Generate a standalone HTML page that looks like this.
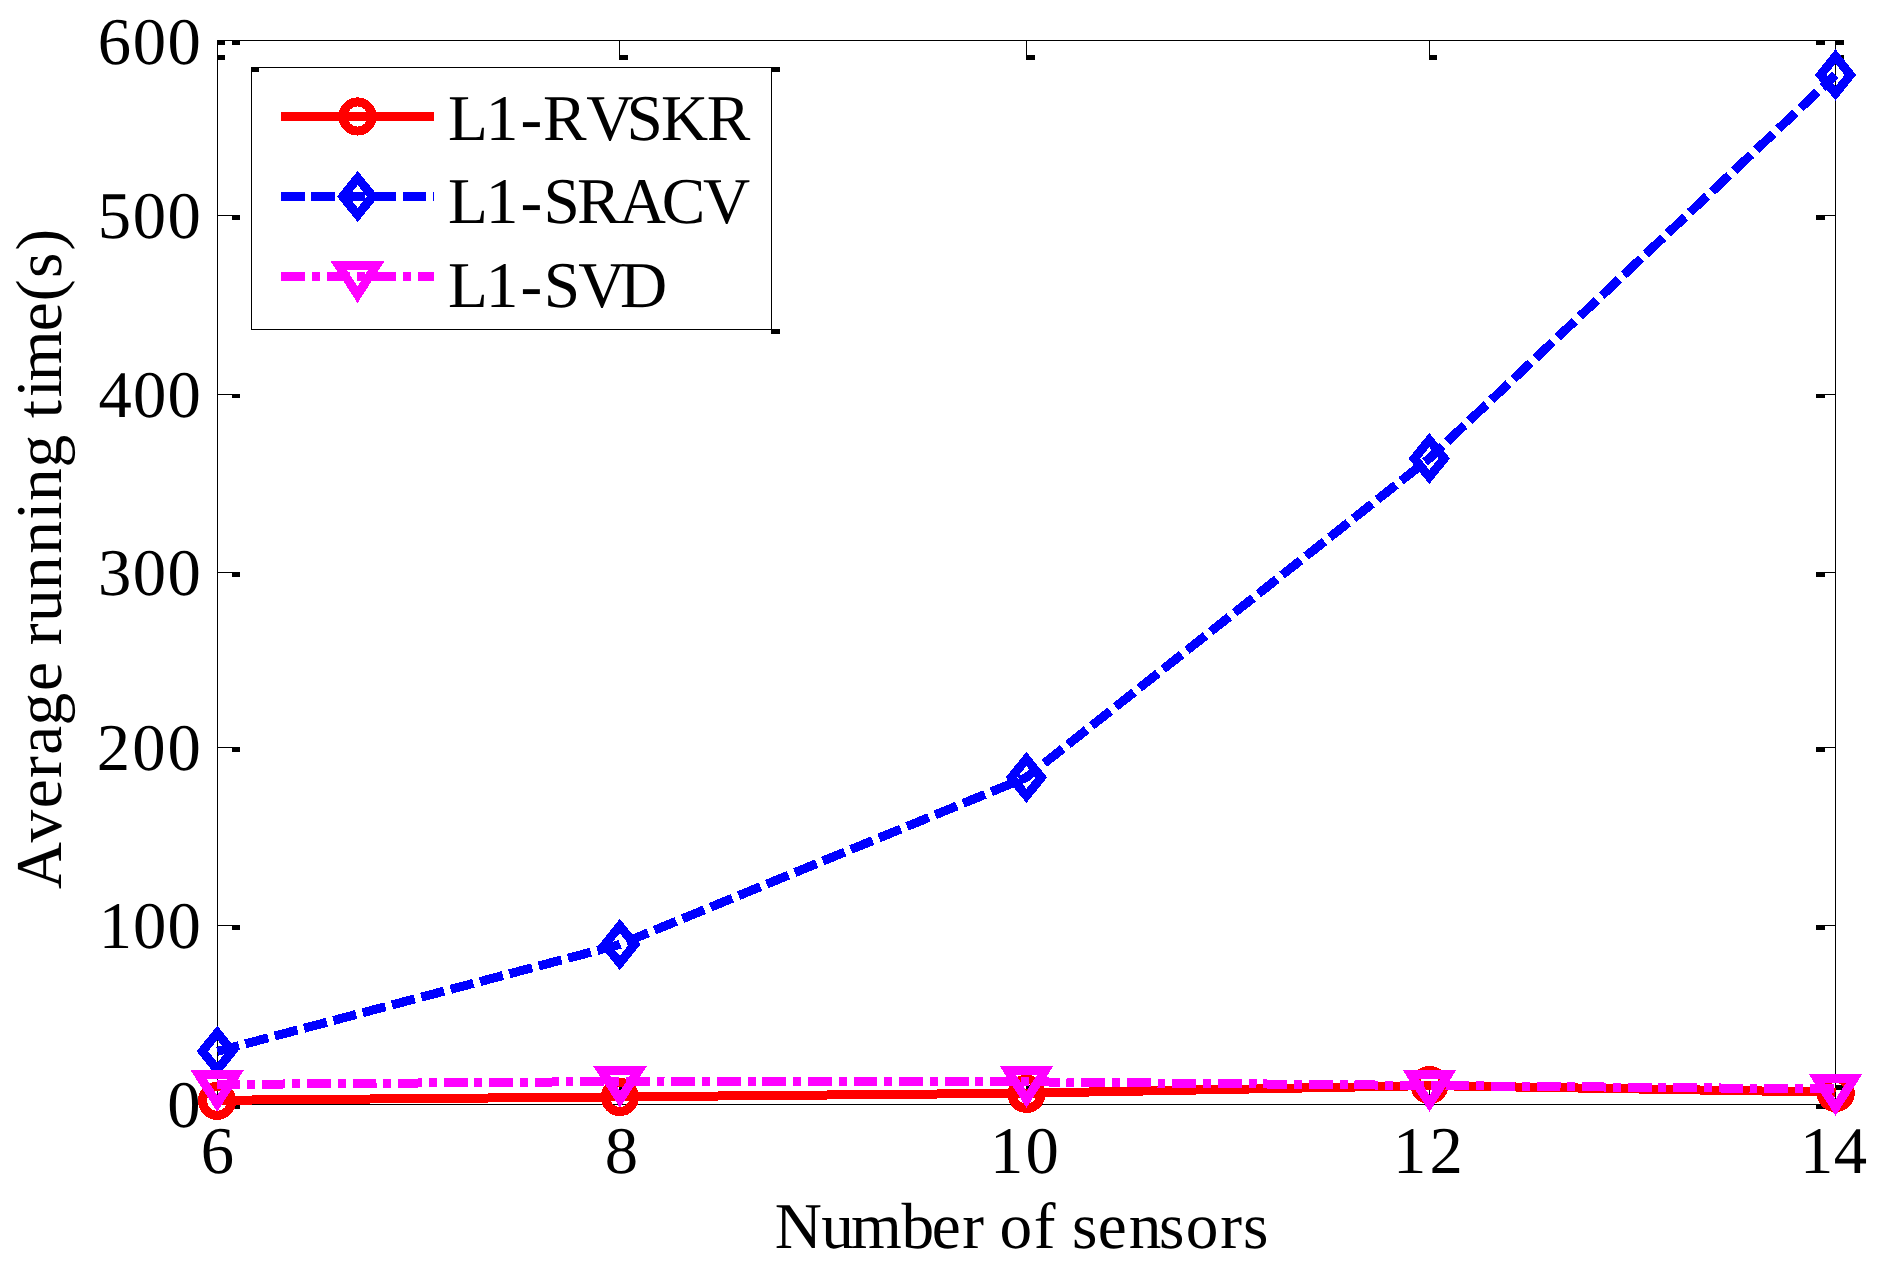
<!DOCTYPE html>
<html lang="en"><head><meta charset="utf-8"><title>Average running time vs number of sensors</title>
<style>html,body{margin:0;padding:0;background:#fff}svg{display:block}</style></head>
<body>
<svg width="1884" height="1266" viewBox="0 0 1884 1266" shape-rendering="crispEdges">
<rect width="1884" height="1266" fill="#fff"/>
<g id="axes" fill="#000">
<rect x="217" y="40" width="1619" height="1" fill="#000"/>
<rect x="217" y="1104" width="1619" height="1" fill="#000"/>
<rect x="217" y="40" width="1" height="1065" fill="#000"/>
<rect x="1835" y="40" width="1" height="1065" fill="#000"/>
<rect x="217" y="40" width="16" height="1" fill="#000"/>
<rect x="232" y="40" width="8" height="5" fill="#000"/>
<rect x="1825" y="40" width="10" height="1" fill="#000"/>
<rect x="1816" y="40" width="9" height="5" fill="#000"/>
<rect x="217" y="215" width="16" height="1" fill="#000"/>
<rect x="232" y="215" width="8" height="5" fill="#000"/>
<rect x="1825" y="215" width="10" height="1" fill="#000"/>
<rect x="1816" y="215" width="9" height="5" fill="#000"/>
<rect x="217" y="394" width="16" height="1" fill="#000"/>
<rect x="232" y="394" width="8" height="4" fill="#000"/>
<rect x="1825" y="394" width="10" height="1" fill="#000"/>
<rect x="1816" y="394" width="9" height="4" fill="#000"/>
<rect x="217" y="572" width="16" height="1" fill="#000"/>
<rect x="232" y="572" width="8" height="5" fill="#000"/>
<rect x="1825" y="572" width="10" height="1" fill="#000"/>
<rect x="1816" y="572" width="9" height="5" fill="#000"/>
<rect x="217" y="747" width="16" height="1" fill="#000"/>
<rect x="232" y="747" width="8" height="5" fill="#000"/>
<rect x="1825" y="747" width="10" height="1" fill="#000"/>
<rect x="1816" y="747" width="9" height="5" fill="#000"/>
<rect x="217" y="925" width="16" height="1" fill="#000"/>
<rect x="232" y="925" width="8" height="5" fill="#000"/>
<rect x="1825" y="925" width="10" height="1" fill="#000"/>
<rect x="1816" y="925" width="9" height="5" fill="#000"/>
<rect x="217" y="1104" width="16" height="1" fill="#000"/>
<rect x="232" y="1104" width="8" height="5" fill="#000"/>
<rect x="1825" y="1104" width="10" height="1" fill="#000"/>
<rect x="1816" y="1104" width="9" height="5" fill="#000"/>
<rect x="217" y="40" width="1" height="16" fill="#000"/>
<rect x="217" y="55" width="8" height="5" fill="#000"/>
<rect x="217" y="1090" width="1" height="15" fill="#000"/>
<rect x="217" y="1085" width="8" height="5" fill="#000"/>
<rect x="619" y="40" width="1" height="16" fill="#000"/>
<rect x="619" y="55" width="9" height="5" fill="#000"/>
<rect x="619" y="1090" width="1" height="15" fill="#000"/>
<rect x="619" y="1085" width="9" height="5" fill="#000"/>
<rect x="1026" y="40" width="1" height="16" fill="#000"/>
<rect x="1026" y="55" width="9" height="5" fill="#000"/>
<rect x="1026" y="1090" width="1" height="15" fill="#000"/>
<rect x="1026" y="1085" width="9" height="5" fill="#000"/>
<rect x="1429" y="40" width="1" height="16" fill="#000"/>
<rect x="1429" y="55" width="8" height="5" fill="#000"/>
<rect x="1429" y="1090" width="1" height="15" fill="#000"/>
<rect x="1429" y="1085" width="8" height="5" fill="#000"/>
<rect x="1835" y="40" width="1" height="16" fill="#000"/>
<rect x="1835" y="55" width="9" height="5" fill="#000"/>
<rect x="1835" y="1090" width="1" height="15" fill="#000"/>
<rect x="1835" y="1085" width="9" height="5" fill="#000"/>
<rect x="217" y="40" width="8" height="5" fill="#000"/>
<rect x="1835" y="40" width="9" height="5" fill="#000"/>
</g>
<g id="series">
<polyline points="217.3,1100.3 619.8,1096.9 1026.4,1093.2 1429.3,1085.6 1835.5,1092.2" fill="none" stroke="#ff0000" stroke-width="9" stroke-linejoin="miter"/>
<circle cx="217.1" cy="1100.8" r="14.6" fill="none" stroke="#ff0000" stroke-width="9"/>
<circle cx="619.9" cy="1097.0" r="14.6" fill="none" stroke="#ff0000" stroke-width="9"/>
<circle cx="1026.5" cy="1093.9" r="14.6" fill="none" stroke="#ff0000" stroke-width="9"/>
<circle cx="1429.5" cy="1085.0" r="14.6" fill="none" stroke="#ff0000" stroke-width="9"/>
<circle cx="1835.7" cy="1093.0" r="14.6" fill="none" stroke="#ff0000" stroke-width="9"/>
<polyline points="217.3,1051.3 619.8,944.5 1026.4,777.4 1429.3,458.5 1835.5,74.9" fill="none" stroke="#0000ff" stroke-width="9" stroke-linejoin="miter" stroke-dasharray="23.55 6.796" stroke-dashoffset="1.3"/>
<path d="M217.3 1032.8L232.2 1051.3L217.3 1069.8L202.4 1051.3Z" fill="none" stroke="#0000ff" stroke-width="9" stroke-linejoin="miter" stroke-miterlimit="10"/>
<path d="M619.8 926.0L634.7 944.5L619.8 963.0L604.9 944.5Z" fill="none" stroke="#0000ff" stroke-width="9" stroke-linejoin="miter" stroke-miterlimit="10"/>
<path d="M1026.4 758.9L1041.3 777.4L1026.4 795.9L1011.5 777.4Z" fill="none" stroke="#0000ff" stroke-width="9" stroke-linejoin="miter" stroke-miterlimit="10"/>
<path d="M1429.3 440.0L1444.2 458.5L1429.3 477.0L1414.4 458.5Z" fill="none" stroke="#0000ff" stroke-width="9" stroke-linejoin="miter" stroke-miterlimit="10"/>
<path d="M1835.5 56.4L1850.4 74.9L1835.5 93.4L1820.6 74.9Z" fill="none" stroke="#0000ff" stroke-width="9" stroke-linejoin="miter" stroke-miterlimit="10"/>
<polyline points="217.3,1084.5 619.8,1081.5 1026.4,1081.8 1429.3,1085.5 1835.5,1089.0" fill="none" stroke="#ff00ff" stroke-width="9" stroke-linejoin="miter" stroke-dasharray="23.9 6.87 7.9 6.87" stroke-dashoffset="1.3"/>
<path d="M198.6 1074.5L235.8 1074.5L217.2 1103.5Z" fill="none" stroke="#ff00ff" stroke-width="9" stroke-linejoin="miter" stroke-miterlimit="10"/>
<path d="M601.4 1070.5L638.6 1070.5L620.0 1099.5Z" fill="none" stroke="#ff00ff" stroke-width="9" stroke-linejoin="miter" stroke-miterlimit="10"/>
<path d="M1007.9 1070.5L1045.1 1070.5L1026.5 1099.5Z" fill="none" stroke="#ff00ff" stroke-width="9" stroke-linejoin="miter" stroke-miterlimit="10"/>
<path d="M1410.9 1074.5L1448.1 1074.5L1429.5 1103.5Z" fill="none" stroke="#ff00ff" stroke-width="9" stroke-linejoin="miter" stroke-miterlimit="10"/>
<path d="M1816.9 1078.5L1854.1 1078.5L1835.5 1107.5Z" fill="none" stroke="#ff00ff" stroke-width="9" stroke-linejoin="miter" stroke-miterlimit="10"/>
</g>
<g id="legend">
<rect x="251" y="67" width="521" height="263" fill="#fff"/>
<rect x="251" y="67" width="521" height="1" fill="#000"/>
<rect x="251" y="329" width="521" height="1" fill="#000"/>
<rect x="251" y="67" width="1" height="263" fill="#000"/>
<rect x="771" y="67" width="1" height="263" fill="#000"/>
<rect x="251" y="67" width="8" height="5" fill="#000"/>
<rect x="771" y="67" width="9" height="5" fill="#000"/>
<rect x="771" y="329" width="9" height="5" fill="#000"/>
<line x1="281" y1="116.5" x2="434" y2="116.5" stroke="#ff0000" stroke-width="9"/>
<circle cx="357.5" cy="116.5" r="14.6" fill="none" stroke="#ff0000" stroke-width="9"/>
<line x1="281" y1="196.5" x2="434" y2="196.5" stroke="#0000ff" stroke-width="9" stroke-dasharray="23.6 6.8"/>
<path d="M357.7 178.0L372.6 196.5L357.7 215.0L342.8 196.5Z" fill="none" stroke="#0000ff" stroke-width="9" stroke-linejoin="miter" stroke-miterlimit="10"/>
<line x1="281" y1="276.5" x2="434" y2="276.5" stroke="#ff00ff" stroke-width="9" stroke-dasharray="23.9 6.87 7.9 6.87"/>
<path d="M338.9 265.8L376.1 265.8L357.5 294.8Z" fill="none" stroke="#ff00ff" stroke-width="9" stroke-linejoin="miter" stroke-miterlimit="10"/>
</g>
<g id="labels" font-family="'Liberation Serif', 'Times New Roman', serif" fill="#000" style="font-kerning:none" shape-rendering="geometricPrecision" text-rendering="geometricPrecision">
<text font-size="66.67" x="97.84 132.67 167.50" y="64">600</text>
<text font-size="66.67" x="97.83 132.67 167.50" y="238">500</text>
<text font-size="66.67" x="98.50 133.00 167.50" y="417">400</text>
<text font-size="66.67" x="98.11 132.81 167.50" y="595">300</text>
<text font-size="66.67" x="96.87 132.19 167.50" y="770">200</text>
<text font-size="66.67" x="98.64 133.07 167.50" y="948">100</text>
<text font-size="66.67" x="167.33" y="1127">0</text>
<text font-size="66.67" x="200.82" y="1173">6</text>
<text font-size="66.67" x="604.86" y="1173">8</text>
<text font-size="66.67" x="990.00 1025.40" y="1173">10</text>
<text font-size="66.67" x="1393.00 1429.54" y="1173">12</text>
<text font-size="66.67" x="1800.00 1833.71" y="1173">14</text>
<text font-size="65.3" x="774.68 821.30 850.88 901.44 931.84 962.21 983.58 999.62 1033.79 1055.64 1072.03 1097.76 1128.82 1159.08 1185.75 1220.21 1243.08" y="1248">Number of sensors</text>
<text font-size="65.3" x="447.92 485.67 520.48 543.12 586.27 626.43 661.02 706.78" y="140">L1-RVSKR</text>
<text font-size="65.3" x="447.92 485.67 520.48 543.53 577.12 618.84 661.69 703.12" y="223">L1-SRACV</text>
<text font-size="65.3" x="447.92 485.67 520.48 543.63 578.27 619.91" y="307">L1-SVD</text>
<text font-size="65.3" transform="translate(61,900) rotate(-90)" x="10.89 57.57 91.81 121.96 145.26 174.44 209.06 238.36 254.86 278.00 311.02 346.27 380.17 398.92 432.54 465.38 481.80 502.77 518.83 568.81 598.84 622.03 649.51" y="0">Average running time(s)</text>
</g>
</svg>
</body></html>
